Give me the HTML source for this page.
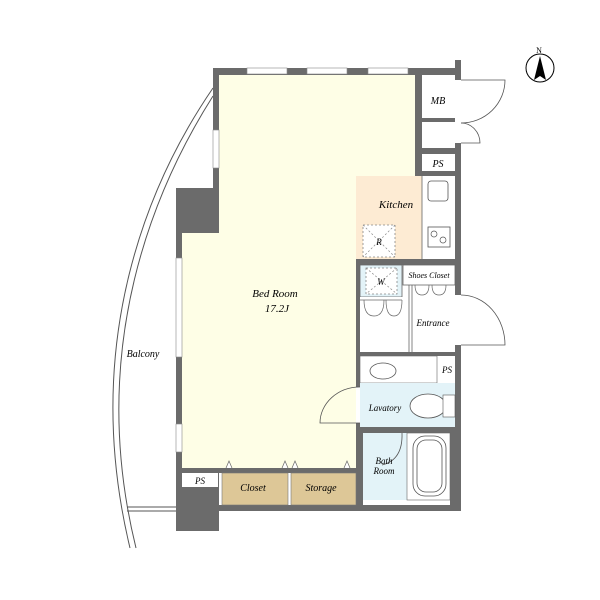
<!DOCTYPE html>
<html><head><style>html,body{margin:0;padding:0;background:#fff}svg{display:block}</style></head><body>
<svg width="600" height="600" viewBox="0 0 600 600" xmlns="http://www.w3.org/2000/svg" font-family="Liberation Serif, serif" font-style="italic">
<!-- balcony -->
<path d="M213,88 C150,180 80,340 130,548" fill="none" stroke="#555" stroke-width="1"/>
<path d="M213,96 C156,186 86,345 136,548" fill="none" stroke="#555" stroke-width="1"/>
<line x1="127" y1="507" x2="176" y2="507" stroke="#555"/>
<line x1="127" y1="511" x2="176" y2="511" stroke="#555"/>
<text x="143" y="357" font-size="10" text-anchor="middle">Balcony</text>
<!-- walls -->
<rect x="213" y="68" width="248" height="7" fill="#6b6b6b"/>
<rect x="213" y="68" width="6" height="125" fill="#6b6b6b"/>
<rect x="176" y="188" width="43" height="45" fill="#6b6b6b"/>
<rect x="176" y="188" width="6" height="343" fill="#6b6b6b"/>
<rect x="176" y="468" width="285" height="5" fill="#6b6b6b"/>
<rect x="176" y="505" width="285" height="6" fill="#6b6b6b"/>
<rect x="176" y="468" width="43" height="63" fill="#6b6b6b"/>
<rect x="455" y="60" width="6" height="451" fill="#6b6b6b"/>
<rect x="415" y="68" width="46" height="108" fill="#6b6b6b"/>
<rect x="356" y="259" width="105" height="6" fill="#6b6b6b"/>
<rect x="356" y="259" width="4" height="214" fill="#6b6b6b"/>
<rect x="356" y="352" width="105" height="4" fill="#6b6b6b"/>
<rect x="356" y="427" width="105" height="6" fill="#6b6b6b"/>
<rect x="356" y="427" width="7" height="84" fill="#6b6b6b"/>
<rect x="450" y="427" width="11" height="84" fill="#6b6b6b"/>
<!-- bedroom -->
<path d="M219,75 H415 V176 H356 V468 H182 V233 H219 Z" fill="#fefee6"/>
<!-- windows -->
<rect x="247" y="68" width="40" height="6" fill="#fff" stroke="#888" stroke-width="0.6"/>
<rect x="307" y="68" width="40" height="6" fill="#fff" stroke="#888" stroke-width="0.6"/>
<rect x="368" y="68" width="40" height="6" fill="#fff" stroke="#888" stroke-width="0.6"/>
<rect x="213" y="130" width="6" height="38" fill="#fff" stroke="#888" stroke-width="0.6"/>
<rect x="176" y="258" width="6" height="99" fill="#fff" stroke="#888" stroke-width="0.6"/>
<rect x="176" y="424" width="6" height="28" fill="#fff" stroke="#888" stroke-width="0.6"/>
<!-- right column -->
<rect x="422" y="75" width="33" height="43" fill="#fff"/>
<rect x="422" y="122" width="33" height="26" fill="#fff"/>
<rect x="422" y="154" width="33" height="17" fill="#fff"/>
<rect x="455" y="80" width="6" height="63" fill="#fff"/>
<text x="438" y="104" font-size="10" text-anchor="middle">MB</text>
<text x="438" y="167" font-size="10" text-anchor="middle">PS</text>
<path d="M461,80 H505 A44,43 0 0 1 461,123" fill="none" stroke="#555" stroke-width="0.8"/>
<path d="M461,123 A19,20 0 0 1 480,143 H461" fill="none" stroke="#555" stroke-width="0.8"/>
<!-- kitchen -->
<rect x="356" y="176" width="66" height="83" fill="#fdebd3"/>
<rect x="422" y="176" width="33" height="83" fill="#fff"/>
<line x1="422" y1="176" x2="422" y2="259" stroke="#666" stroke-width="0.8"/>
<rect x="428" y="181" width="20" height="20" rx="3" fill="#fff" stroke="#555" stroke-width="0.8"/>
<rect x="428" y="227" width="22" height="20" fill="#fff" stroke="#555" stroke-width="0.8"/>
<circle cx="434" cy="234" r="3" fill="none" stroke="#555" stroke-width="0.7"/>
<circle cx="443" cy="240" r="3" fill="none" stroke="#555" stroke-width="0.7"/>
<text x="396" y="208" font-size="11" text-anchor="middle">Kitchen</text>
<rect x="363" y="225" width="32" height="32" fill="#fff" stroke="#888" stroke-dasharray="2,2" stroke-width="0.8"/>
<path d="M363,225 L395,257 M395,225 L363,257" stroke="#888" stroke-dasharray="2,2" stroke-width="0.7"/>
<text x="379" y="245" font-size="9" text-anchor="middle">R</text>
<!-- W / shoes -->
<rect x="360" y="265" width="42" height="32" fill="#e3f3f8" stroke="#666" stroke-width="0.8"/>
<rect x="366" y="268" width="31" height="26" fill="#fff" stroke="#888" stroke-dasharray="2,2" stroke-width="0.8"/>
<path d="M366,268 L397,294 M397,268 L366,294" stroke="#888" stroke-dasharray="2,2" stroke-width="0.7"/>
<text x="381" y="285" font-size="9" text-anchor="middle">W</text>
<rect x="360" y="297" width="95" height="55" fill="#fff"/>
<rect x="403" y="265" width="52" height="20" fill="#fff" stroke="#666" stroke-width="0.8"/>
<text x="429" y="278" font-size="8" text-anchor="middle">Shoes Closet</text>
<line x1="409" y1="285" x2="409" y2="352" stroke="#666" stroke-width="0.8"/>
<line x1="412" y1="285" x2="412" y2="352" stroke="#666" stroke-width="0.8"/>
<line x1="360" y1="300" x2="402" y2="300" stroke="#666" stroke-width="0.8"/>
<path d="M364,300 q0,16 10,16 q10,0 10,-16 M386,300 q0,16 8,16 q8,0 8,-16" fill="none" stroke="#666" stroke-width="0.7"/>
<path d="M415,285 q0,10 7,10 q7,0 7,-10 M432,285 q0,10 7,10 q7,0 7,-10" fill="none" stroke="#666" stroke-width="0.7"/>
<text x="433" y="326" font-size="9" text-anchor="middle">Entrance</text>
<rect x="455" y="295" width="6" height="50" fill="#fff"/>
<path d="M461,295 A44,50 0 0 1 505,345 H461" fill="none" stroke="#555" stroke-width="0.8"/>
<!-- wash -->
<rect x="360" y="356" width="77" height="27" fill="#fff" stroke="#666" stroke-width="0.6"/>
<ellipse cx="383" cy="371" rx="13" ry="8" fill="none" stroke="#555" stroke-width="0.8"/>
<rect x="439" y="358" width="16" height="22" fill="#fff"/>
<text x="447" y="373" font-size="9" text-anchor="middle">PS</text>
<rect x="360" y="383" width="95" height="44" fill="#e3f3f8"/>
<ellipse cx="428" cy="406" rx="18" ry="12" fill="#fff" stroke="#555" stroke-width="0.8"/>
<rect x="443" y="395" width="12" height="22" fill="#fff" stroke="#555" stroke-width="0.6"/>
<text x="385" y="411" font-size="9" text-anchor="middle">Lavatory</text>
<rect x="356" y="387" width="4" height="36" fill="#fff"/>
<path d="M360,387 A40,36 0 0 0 320,423 H360" fill="none" stroke="#555" stroke-width="0.8"/>
<!-- bath -->
<rect x="363" y="433" width="44" height="67" fill="#e3f3f8"/>
<rect x="407" y="433" width="43" height="67" fill="#fff" stroke="#666" stroke-width="0.6"/>
<rect x="413" y="436" width="33" height="60" rx="12" fill="none" stroke="#555" stroke-width="0.8"/>
<rect x="417" y="440" width="25" height="52" rx="9" fill="none" stroke="#555" stroke-width="0.8"/>
<path d="M402,433 Q403,460 382,465" fill="none" stroke="#555" stroke-width="0.8"/>
<text x="384" y="464" font-size="9" text-anchor="middle">Bath</text>
<text x="384" y="474" font-size="9" text-anchor="middle">Room</text>
<!-- closets -->
<rect x="182" y="473" width="36" height="14" fill="#fff"/>
<text x="200" y="484" font-size="9" text-anchor="middle">PS</text>
<rect x="222" y="473" width="66" height="32" fill="#ddc797" stroke="#777" stroke-width="0.6"/>
<rect x="291" y="473" width="65" height="32" fill="#ddc797" stroke="#777" stroke-width="0.6"/>
<text x="253" y="491" font-size="10" text-anchor="middle">Closet</text>
<text x="321" y="491" font-size="10" text-anchor="middle">Storage</text>
<path d="M226,468 l3,-7 l3,7 M282,468 l3,-7 l3,7 M292,468 l3,-7 l3,7 M344,468 l3,-7 l3,7" fill="#fff" stroke="#666" stroke-width="0.7"/>
<text x="275" y="297" font-size="11" text-anchor="middle">Bed Room</text>
<text x="277" y="312" font-size="11" text-anchor="middle">17.2J</text>
<!-- compass -->
<circle cx="540" cy="68" r="14" fill="#fff" stroke="#000" stroke-width="1"/>
<path d="M540,56 L534,80 L540,76 L546,80 Z" fill="#000"/>
<text x="539" y="53" font-size="8" font-style="normal" text-anchor="middle">N</text>
</svg>
</body></html>
